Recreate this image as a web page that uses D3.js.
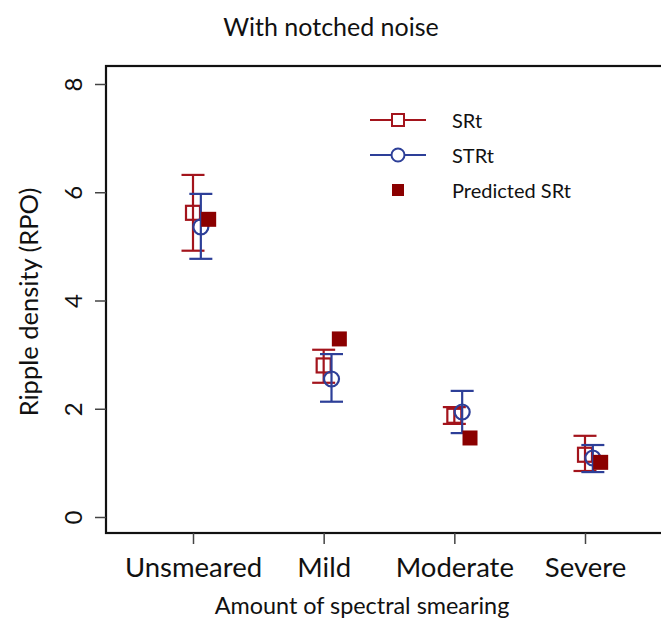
<!DOCTYPE html>
<html>
<head>
<meta charset="utf-8">
<script src="https://cdn.jsdelivr.net/npm/d3@7"></script>
<style>
  body { margin: 0; background: #fff; }
  text { font-family: Lato, "Open Sans", sans-serif; fill: #111; }
</style>
</head>
<body>
<div id="chart"></div>
<script>

//********************* DATA ************************************

var categories = ["Unsmeared", "Mild", "Moderate", "Severe"];

var srtMean  = [5.62, 2.80, 1.87, 1.15];
var srtLow   = [4.92, 2.48, 1.72, 0.85];
var srtHigh  = [6.32, 3.09, 2.03, 1.50];

var strtMean = [5.36, 2.55, 1.94, 1.09];
var strtLow  = [4.77, 2.13, 1.55, 0.83];
var strtHigh = [5.97, 3.01, 2.33, 1.33];

var predicted = [5.50, 3.29, 1.46, 1.01];

var yTicks = [0, 2, 4, 6, 8];

var red = "#a3141c", blue = "#2d3f98", darkRed = "#8b0000";

//********************* DIMENSIONS ************************************

var width = 661, height = 626;

var svg = d3.select("#chart").append("svg")
    .attr("width", width)
    .attr("height", height);

// x in category index units (1..4), y in RPO
var xScale = d3.scaleLinear().domain([1, 4]).range([193, 585]);
var yScale = d3.scaleLinear().domain([0, 8]).range([517, 84]);

var boxLeft = 106, boxTop = 66, boxBottom = 533, boxRight = 672;

//********************* AXES ************************************

svg.append("rect")
    .attr("x", boxLeft).attr("y", boxTop)
    .attr("width", boxRight - boxLeft).attr("height", boxBottom - boxTop)
    .attr("fill", "none").attr("stroke", "#111").attr("stroke-width", 2.2);

var yAxis = svg.append("g")
    .attr("transform", "translate(" + boxLeft + ",0)")
    .call(d3.axisLeft(yScale).tickValues(yTicks).tickSize(11).tickFormat(d3.format("d")));
yAxis.select(".domain").remove();
yAxis.selectAll(".tick line").attr("stroke", "#444").attr("stroke-width", 1.5);
yAxis.selectAll(".tick text")
    .attr("x", 0).attr("dy", 0).attr("y", 0)
    .attr("transform", "translate(-34,0) rotate(-90)")
    .attr("text-anchor", "middle")
    .attr("dominant-baseline", "central")
    .style("font-size", "24px");

var xAxis = svg.append("g")
    .attr("transform", "translate(0," + boxBottom + ")")
    .call(d3.axisBottom(xScale).tickValues([1, 2, 3, 4]).tickSize(11)
      .tickFormat(function(d) { return categories[d - 1]; }));
xAxis.select(".domain").remove();
xAxis.selectAll(".tick line").attr("stroke", "#444").attr("stroke-width", 1.5);
xAxis.selectAll(".tick text")
    .attr("y", 44).attr("dy", 0)
    .style("font-size", "27.5px");

svg.append("text")
    .attr("x", 331).attr("y", 36)
    .attr("text-anchor", "middle")
    .style("font-size", "25px")
    .text("With notched noise");

svg.append("text")
    .attr("x", 362).attr("y", 614)
    .attr("text-anchor", "middle")
    .style("font-size", "23.4px")
    .text("Amount of spectral smearing");

svg.append("text")
    .attr("transform", "translate(38,302) rotate(-90)")
    .attr("text-anchor", "middle")
    .style("font-size", "25.5px")
    .text("Ripple density (RPO)");

//********************* MARKS ************************************

var capHalf = 11.5;

function errorBars(mean, low, high, offset, color, cls) {
  var g = svg.append("g").attr("class", cls);
  mean.forEach(function(m, i) {
    var cx = xScale(i + 1 + offset);
    g.append("line")
        .attr("x1", cx).attr("x2", cx)
        .attr("y1", yScale(low[i])).attr("y2", yScale(high[i]))
        .attr("stroke", color).attr("stroke-width", 2.2);
    [low[i], high[i]].forEach(function(v) {
      g.append("line")
          .attr("x1", cx - capHalf).attr("x2", cx + capHalf)
          .attr("y1", yScale(v)).attr("y2", yScale(v))
          .attr("stroke", color).attr("stroke-width", 2.2);
    });
  });
  return g;
}

var srtG = errorBars(srtMean, srtLow, srtHigh, 0, red, "srt");
srtG.selectAll("rect.pt")
    .data(srtMean)
  .enter().append("rect")
    .attr("class", "pt")
    .attr("x", function(d, i) { return xScale(i + 1) - 7; })
    .attr("y", function(d) { return yScale(d) - 7; })
    .attr("width", 14).attr("height", 14)
    .attr("fill", "none").attr("stroke", red).attr("stroke-width", 2.2);

var strtG = errorBars(strtMean, strtLow, strtHigh, 0.06, blue, "strt");
strtG.selectAll("circle.pt")
    .data(strtMean)
  .enter().append("circle")
    .attr("class", "pt")
    .attr("cx", function(d, i) { return xScale(i + 1.06); })
    .attr("cy", function(d) { return yScale(d); })
    .attr("r", 7.5)
    .attr("fill", "none").attr("stroke", blue).attr("stroke-width", 2.2);

svg.append("g").selectAll("rect")
    .data(predicted)
  .enter().append("rect")
    .attr("x", function(d, i) { return xScale(i + 1.12) - 7.5; })
    .attr("y", function(d) { return yScale(d) - 7.5; })
    .attr("width", 15).attr("height", 15)
    .attr("fill", darkRed);

//********************* LEGEND ************************************

var legend = svg.append("g").attr("transform", "translate(370,120)");
var legendItems = ["SRt", "STRt", "Predicted SRt"];

legendItems.forEach(function(name, i) {
  var ly = i * 35;
  if (i < 2) {
    var c = i === 0 ? red : blue;
    legend.append("line")
        .attr("x1", 0).attr("x2", 56).attr("y1", ly).attr("y2", ly)
        .attr("stroke", c).attr("stroke-width", 2.2);
    if (i === 0) {
      legend.append("rect").attr("x", 22).attr("y", ly - 6)
          .attr("width", 12).attr("height", 12)
          .attr("fill", "#fff").attr("stroke", c).attr("stroke-width", 2);
    } else {
      legend.append("circle").attr("cx", 28).attr("cy", ly).attr("r", 6.5)
          .attr("fill", "#fff").attr("stroke", c).attr("stroke-width", 2);
    }
  } else {
    legend.append("rect").attr("x", 22).attr("y", ly - 6)
        .attr("width", 12).attr("height", 12)
        .attr("fill", darkRed);
  }
  legend.append("text")
      .attr("x", 82).attr("y", ly)
      .attr("dominant-baseline", "central")
      .style("font-size", "20px")
      .text(name);
});

</script>
</body>
</html>
